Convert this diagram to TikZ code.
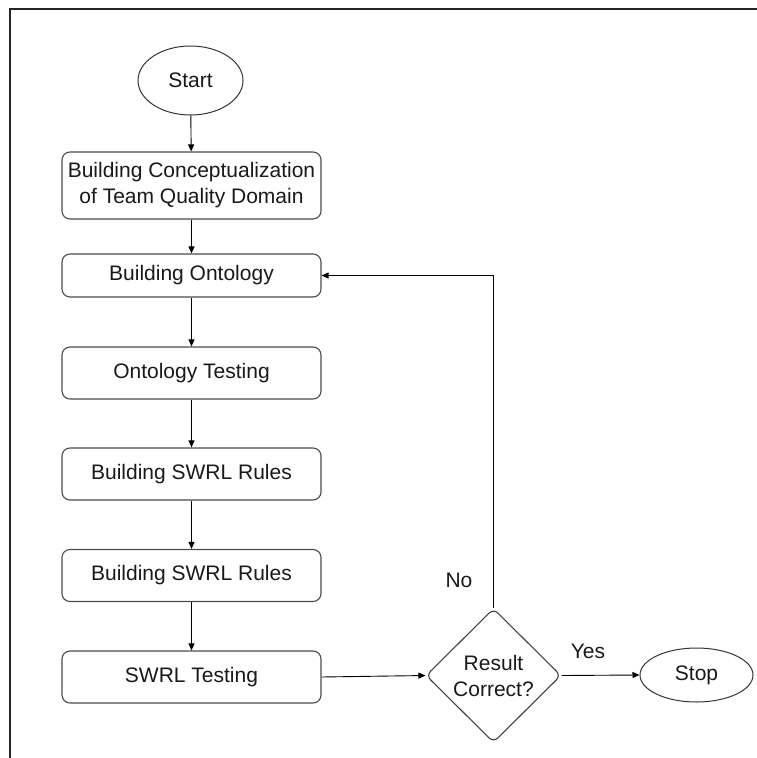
\documentclass[tikz,border=0pt]{standalone}
\usepackage{fontspec}
\setmainfont{Liberation Sans}
\usetikzlibrary{shapes.geometric,arrows.meta}

\tikzset{
  every node/.style={font=\fontsize{21}{26}\selectfont, text=black!90},
  procbox/.style={draw=black!70, line width=1.1pt, rounded corners=8pt,
    minimum width=259pt, inner sep=0pt, align=center},
  terminal/.style={ellipse, draw=black!80, line width=1pt, inner sep=0pt},
  decision/.style={diamond, draw=black!75, line width=1.1pt, rounded corners=6pt,
    minimum width=135pt, minimum height=134pt, inner sep=0pt, align=center},
  flow/.style={draw=black, line width=0.9pt,
    -{Triangle[length=7pt,width=6pt]}},
  lbl/.style={inner sep=0pt}
}

\begin{document}
\begin{tikzpicture}[x=1pt, y=-1pt]
  \useasboundingbox (0,0) rectangle (757,758);

  % frame edges
  \draw[line width=1.4pt, black!85] (10,758) -- (10,9) -- (757,9);

  % nodes
  \node[terminal, minimum width=105pt, minimum height=69pt] (start) at (190.5,80.5) {Start};
  \node[procbox, minimum height=67pt] (concept) at (191.5,185.5)
    {Building Conceptualization\\of Team Quality Domain};
  \node[procbox, minimum height=43pt] (onto) at (191.5,275.5) {Building Ontology};
  \node[procbox, minimum height=52pt] (ontotest) at (191.5,373) {Ontology Testing};
  \node[procbox, minimum height=52pt] (swrlA) at (191.5,474) {Building SWRL Rules};
  \node[procbox, minimum height=52pt] (swrlB) at (191.5,575.5) {Building SWRL Rules};
  \node[procbox, minimum height=52pt] (swrltest) at (191.5,677) {SWRL Testing};
  \node[decision] (check) at (493.5,675.5) {Result\\Correct?};
  \node[terminal, minimum width=113pt, minimum height=54pt] (stop) at (696.5,675) {Stop};

  % labels
  \node[lbl] at (459,580) {No};
  \node[lbl] at (588,651) {Yes};

  % connectors
  \draw[flow] (start) -- (concept);
  \draw[flow] (concept) -- (onto);
  \draw[flow] (onto) -- (ontotest);
  \draw[flow] (ontotest) -- (swrlA);
  \draw[flow] (swrlA) -- (swrlB);
  \draw[flow] (swrlB) -- (swrltest);
  \draw[flow] (swrltest.east) -- (check.west);
  \draw[flow] (check.east) -- (stop.west);
  \draw[flow] (check.north) |- (onto.east);
\end{tikzpicture}
\end{document}
